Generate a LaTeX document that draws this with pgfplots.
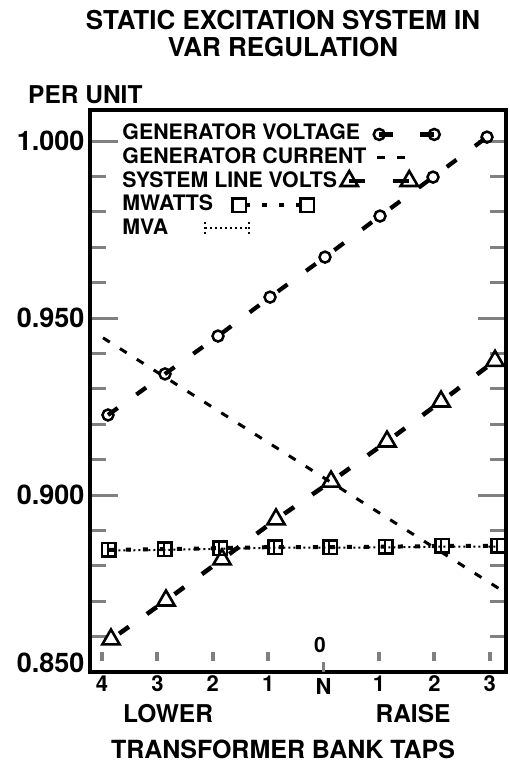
\documentclass[border=0pt]{standalone}
\usepackage{fontspec}
\setmainfont{TeX Gyre Heros}
\usepackage{pgfplots}
\pgfplotsset{compat=1.18}
\newcommand{\fs}[1]{\fontsize{#1}{#1}\selectfont\bfseries}
\pgfplotsset{
  lgvolt/.style={legend image code/.code={\path (0,0); \draw[##1, overlay, dash pattern=on 14pt off 27pt] plot coordinates {(259pt,-2pt) (314pt,-2pt)};}},
  lgcur/.style={legend image code/.code={\path (0,0); \draw[##1, overlay] (257pt,-1pt) -- (285pt,-1pt);}},
  lgsys/.style={legend image code/.code={\path (0,0); \draw[##1, overlay, dash pattern=on 16pt off 28pt, dash phase=0pt] plot coordinates {(229pt,-1pt) (289pt,-1pt)};}},
  lgmw/.style={legend image code/.code={\path (0,0); \draw[##1, overlay, dash phase=11pt] plot coordinates {(119pt,-1.5pt) (187pt,-1.5pt)};}},
  lgmva/.style={legend image code/.code={\path (0,0);
    \draw[overlay, line width=2pt, dash pattern=on 2pt off 3pt] (85pt,-0.5pt) -- (129pt,-0.5pt);
    \draw[overlay, line width=2pt] (85pt,-6.5pt) -- (85pt,5.5pt) (129pt,-6.5pt) -- (129pt,5.5pt);}},
}
\begin{document}
\begin{tikzpicture}
\path[use as bounding box] (-90pt,-92pt) rectangle (420pt,672pt);
\begin{axis}[
  at={(0pt,0pt)}, anchor=south west,
  scale only axis, width=416pt, height=562pt,
  xmin=-0.2166, xmax=7.292, ymin=0.85, ymax=1.00876,
  axis line style={line width=3.5pt},
  tick align=inside,
  xtick pos=left, ytick pos=both,
  major tick length=28pt, minor tick length=16pt,
  xtick={0,1,2,3,5,6,7}, xticklabels={4,3,2,1,1,2,3},
  xtick style={line width=4pt, dash pattern=on 0pt off 11pt on 9pt off 8pt},
  extra x ticks={4}, extra x tick labels={N},
  extra x tick style={xtick style={line width=3.5pt, dash pattern=on 10pt off 18pt}, xticklabel style={yshift=-3pt}},
  ytick={0.9,0.95,1.0}, yticklabels={0.900,0.950,1.000},
  minor ytick={0.86,0.87,0.88,0.89,0.91,0.92,0.93,0.94,0.96,0.97,0.98,0.99},
  ytick style={line width=3pt},
  extra y ticks={0.85}, extra y tick labels={0.850},
  extra y tick style={ytick style={draw=none}, yticklabel style={yshift=9pt}},
  xticklabel style={font=\fs{22}},
  yticklabel style={font=\fs{27}, xshift=-2pt},
  legend style={draw=none, fill=none, inner sep=0pt, outer sep=0pt, row sep=6.5pt, column sep=0pt,
    at={(0.0673,0.9754)}, anchor=north west, font=\fs{21.3}, nodes={inner sep=0pt, outer sep=0pt}},
  legend cell align=left,
]
% GENERATOR VOLTAGE
\addplot[black, line width=4.2pt, dash pattern=on 12pt off 23pt, mark=o, mark size=5.5pt,
  mark options={solid, fill=white, line width=2.5pt}, lgvolt]
  coordinates {(0.108,0.9226) (1.137,0.9342) (2.094,0.9449) (3.033,0.9559) (4.025,0.9672) (5.018,0.9788) (5.975,0.9898) (6.949,1.0011)};
\addlegendentry{GENERATOR VOLTAGE}
% GENERATOR CURRENT
\addplot[black, line width=3pt, dash pattern=on 8pt off 12pt, mark=none, lgcur]
  coordinates {(0.018,0.9444) (4.0,0.9049) (7.202,0.8732)};
\addlegendentry{GENERATOR CURRENT}
% SYSTEM LINE VOLTS
\addplot[black, line width=4.5pt, dash pattern=on 12pt off 22pt, dash phase=24pt, mark=triangle, mark size=10pt,
  mark options={solid, line width=2.6pt}, lgsys]
  coordinates {(0.162,0.8592) (1.155,0.8702) (2.166,0.8818) (3.141,0.8931) (4.134,0.9038) (5.144,0.9151) (6.119,0.9264) (7.094,0.9379)};
\addlegendentry{SYSTEM LINE VOLTS}
% MWATTS
\addplot[black, line width=4pt, dash pattern=on 5pt off 12pt, mark=square, mark size=6.8pt,
  mark options={solid, line width=2.6pt}, lgmw]
  coordinates {(0.126,0.8845) (1.137,0.8847) (2.130,0.8850) (3.123,0.8853) (4.116,0.8853) (5.126,0.8854) (6.137,0.8856) (7.148,0.8856)};
\addlegendentry{MWATTS}
% MVA
\addplot[black, line width=2pt, dash pattern=on 2pt off 3pt, mark=|, mark size=7.5pt,
  mark options={solid, line width=2pt}, lgmva]
  coordinates {(0.116,0.8843) (1.127,0.8845) (2.120,0.8848) (3.113,0.8851) (4.106,0.8851) (5.116,0.8852) (6.127,0.8854) (7.138,0.8854)};
\addlegendentry{MVA}
\end{axis}
\node[font=\fs{26}] at (193pt,651.5pt) {STATIC EXCITATION SYSTEM IN};
\node[font=\fs{26}] at (193pt,624.5pt) {VAR REGULATION};
\node[font=\fs{24.5}, anchor=west, inner sep=0pt] at (-62pt,577.5pt) {PER UNIT};
\node[font=\fs{21}] at (230pt,27pt) {0};
\node[font=\fs{24.5}] at (78pt,-42pt) {LOWER};
\node[font=\fs{24.5}] at (323pt,-42pt) {RAISE};
\node[font=\fs{25}] at (193pt,-77pt) {TRANSFORMER BANK TAPS};
\end{tikzpicture}
\end{document}
